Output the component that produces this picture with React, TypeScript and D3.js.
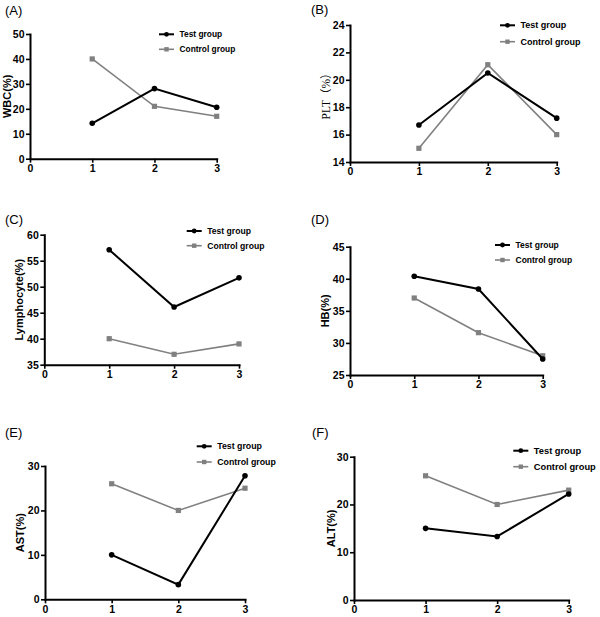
import React, { useEffect, useRef } from "react";
import * as d3 from "d3";

const xTicks = [0, 1, 2, 3];
const xCats = [1, 2, 3];
const seriesNames = ["Test group", "Control group"];

const wbcTest = [14.2, 28.1, 20.6];
const wbcControl = [40, 21, 17];
const pltTest = [16.7, 20.5, 17.2];
const pltControl = [15, 21.1, 16];
const lymTest = [57.1, 46.1, 51.7];
const lymControl = [40, 37, 39];
const hbTest = [40.4, 38.4, 27.5];
const hbControl = [37, 31.6, 28];
const astTest = [10, 3.3, 27.8];
const astControl = [26, 20, 25];
const altTest = [15, 13.3, 22.2];
const altControl = [26, 20, 23];

const wbcTicks = [0, 10, 20, 30, 40, 50];
const pltTicks = [14, 16, 18, 20, 22, 24];
const lymTicks = [35, 40, 45, 50, 55, 60];
const hbTicks = [25, 30, 35, 40, 45];
const astTicks = [0, 10, 20, 30];
const altTicks = [0, 10, 20, 30];

const panelLabels = ["(A)", "(B)", "(C)", "(D)", "(E)", "(F)"];
const yTitles = ["WBC(%)", "PLT（%）", "Lymphocyte(%)", "HB(%)", "AST(%)", "ALT(%)"];

// layout (pixel frame of each panel)
const layout = [
  { x0: 30, x3: 216.7, yT: 34, yB: 158.7, tx: 7, lgX: 159, lgY: 34.3, lgDy: 15, lgFs: 8.4, label: { x: 5, y: 10 } },
  { x0: 350, x3: 556.7, yT: 25, yB: 162, tx: 326, lgX: 500, lgY: 25.3, lgDy: 16.4, lgFs: 9, label: { x: 311, y: 9 } },
  { x0: 44.3, x3: 239, yT: 234.7, yB: 364.7, tx: 18.5, lgX: 186.7, lgY: 231, lgDy: 14.7, lgFs: 8.6, label: { x: 5, y: 219 } },
  { x0: 350, x3: 542.7, yT: 246.7, yB: 375, tx: 325, lgX: 495, lgY: 245, lgDy: 15, lgFs: 8.5, label: { x: 311, y: 219 } },
  { x0: 45, x3: 245, yT: 466, yB: 599.3, tx: 20, lgX: 196.7, lgY: 446.3, lgDy: 15.7, lgFs: 8.8, label: { x: 5, y: 432 } },
  { x0: 354, x3: 568.7, yT: 456.7, yB: 600, tx: 330.5, lgX: 513.3, lgY: 450.7, lgDy: 16, lgFs: 9.3, label: { x: 312, y: 432 } },
];

const panelData = [
  { test: wbcTest, control: wbcControl, ticks: wbcTicks },
  { test: pltTest, control: pltControl, ticks: pltTicks },
  { test: lymTest, control: lymControl, ticks: lymTicks },
  { test: hbTest, control: hbControl, ticks: hbTicks },
  { test: astTest, control: astControl, ticks: astTicks },
  { test: altTest, control: altControl, ticks: altTicks },
];

const GRAY = "#808080";
const FONT = "Arial, 'Liberation Sans', Helvetica, sans-serif";

export default function App() {
  const ref = useRef<SVGSVGElement | null>(null);

  useEffect(() => {
    const svg = d3.select(ref.current);
    svg.selectAll("*").remove();

    panelData.forEach((pd, i) => {
      const L = layout[i];
      const g = svg.append("g");
      const x = d3.scaleLinear().domain([0, 3]).range([L.x0, L.x3]);
      const ticks = pd.ticks;
      const y = d3
        .scaleLinear()
        .domain([ticks[0], ticks[ticks.length - 1]])
        .range([L.yB, L.yT]);

      // panel label
      g.append("text")
        .attr("x", L.label.x)
        .attr("y", L.label.y)
        .attr("dominant-baseline", "central")
        .attr("font-family", FONT)
        .attr("font-size", 13)
        .text(panelLabels[i]);

      // axes
      const xAxis = d3
        .axisBottom(x)
        .tickValues(xTicks)
        .tickFormat(d3.format("d"))
        .tickSizeInner(4)
        .tickSizeOuter(0)
        .tickPadding(2);
      const yAxis = d3
        .axisLeft(y)
        .tickValues(ticks)
        .tickFormat(d3.format("d"))
        .tickSizeInner(4)
        .tickSizeOuter(0)
        .tickPadding(1.5);

      const gx = g.append("g").attr("transform", `translate(0,${L.yB})`).call(xAxis);
      const gy = g.append("g").attr("transform", `translate(${L.x0},0)`).call(yAxis);
      [gx, gy].forEach((ax) => {
        ax.select(".domain").attr("stroke", "#000").attr("stroke-width", 2).attr("stroke-linecap", "square");
        ax.selectAll(".tick line").attr("stroke", "#000").attr("stroke-width", 1.6);
        ax.selectAll(".tick text")
          .attr("font-family", FONT)
          .attr("font-size", 10.5)
          .attr("font-weight", "bold")
          .attr("fill", "#000");
      });

      // y title
      const isPLT = i === 1;
      g.append("text")
        .attr("transform", `translate(${L.tx},${(L.yT + L.yB) / 2}) rotate(-90)`)
        .attr("text-anchor", "middle")
        .attr("dominant-baseline", "central")
        .attr("font-family", isPLT ? "'Liberation Serif', 'Times New Roman', 'Noto Sans CJK SC', serif" : FONT)
        .attr("font-weight", isPLT ? "normal" : "bold")
        .attr("font-size", isPLT ? 11.5 : 11)
        .text(yTitles[i]);

      const line = d3
        .line<number>()
        .x((_, k) => x(xCats[k]))
        .y((d) => y(d));

      // control series
      g.append("path")
        .attr("d", line(pd.control) || "")
        .attr("fill", "none")
        .attr("stroke", GRAY)
        .attr("stroke-width", 1.6);
      g.selectAll(".sq")
        .data(pd.control)
        .enter()
        .append("rect")
        .attr("x", (_, k) => x(xCats[k]) - 2.6)
        .attr("y", (d) => y(d) - 2.6)
        .attr("width", 5.2)
        .attr("height", 5.2)
        .attr("fill", GRAY);

      // test series
      g.append("path")
        .attr("d", line(pd.test) || "")
        .attr("fill", "none")
        .attr("stroke", "#000")
        .attr("stroke-width", 2);
      g.selectAll(".dot")
        .data(pd.test)
        .enter()
        .append("circle")
        .attr("cx", (_, k) => x(xCats[k]))
        .attr("cy", (d) => y(d))
        .attr("r", 2.8)
        .attr("fill", "#000");

      // legend
      const lg = g.append("g");
      seriesNames.forEach((name, s) => {
        const ly = L.lgY + s * L.lgDy;
        const col = s === 0 ? "#000" : GRAY;
        lg.append("line")
          .attr("x1", L.lgX)
          .attr("x2", L.lgX + 15)
          .attr("y1", ly)
          .attr("y2", ly)
          .attr("stroke", col)
          .attr("stroke-width", s === 0 ? 2 : 1.6);
        if (s === 0) {
          lg.append("circle").attr("cx", L.lgX + 7.5).attr("cy", ly).attr("r", 2.4).attr("fill", col);
        } else {
          lg.append("rect").attr("x", L.lgX + 7.5 - 2.2).attr("y", ly - 2.2).attr("width", 4.4).attr("height", 4.4).attr("fill", col);
        }
        lg.append("text")
          .attr("x", L.lgX + 20.5)
          .attr("y", ly)
          .attr("dominant-baseline", "central")
          .attr("font-family", FONT)
          .attr("font-size", L.lgFs)
          .attr("font-weight", "bold")
          .text(name);
      });
    });
  }, []);

  return (
    <svg
      ref={ref}
      width={600}
      height={617}
      style={{ position: "absolute", left: 0, top: 0, background: "#fff" }}
    />
  );
}
